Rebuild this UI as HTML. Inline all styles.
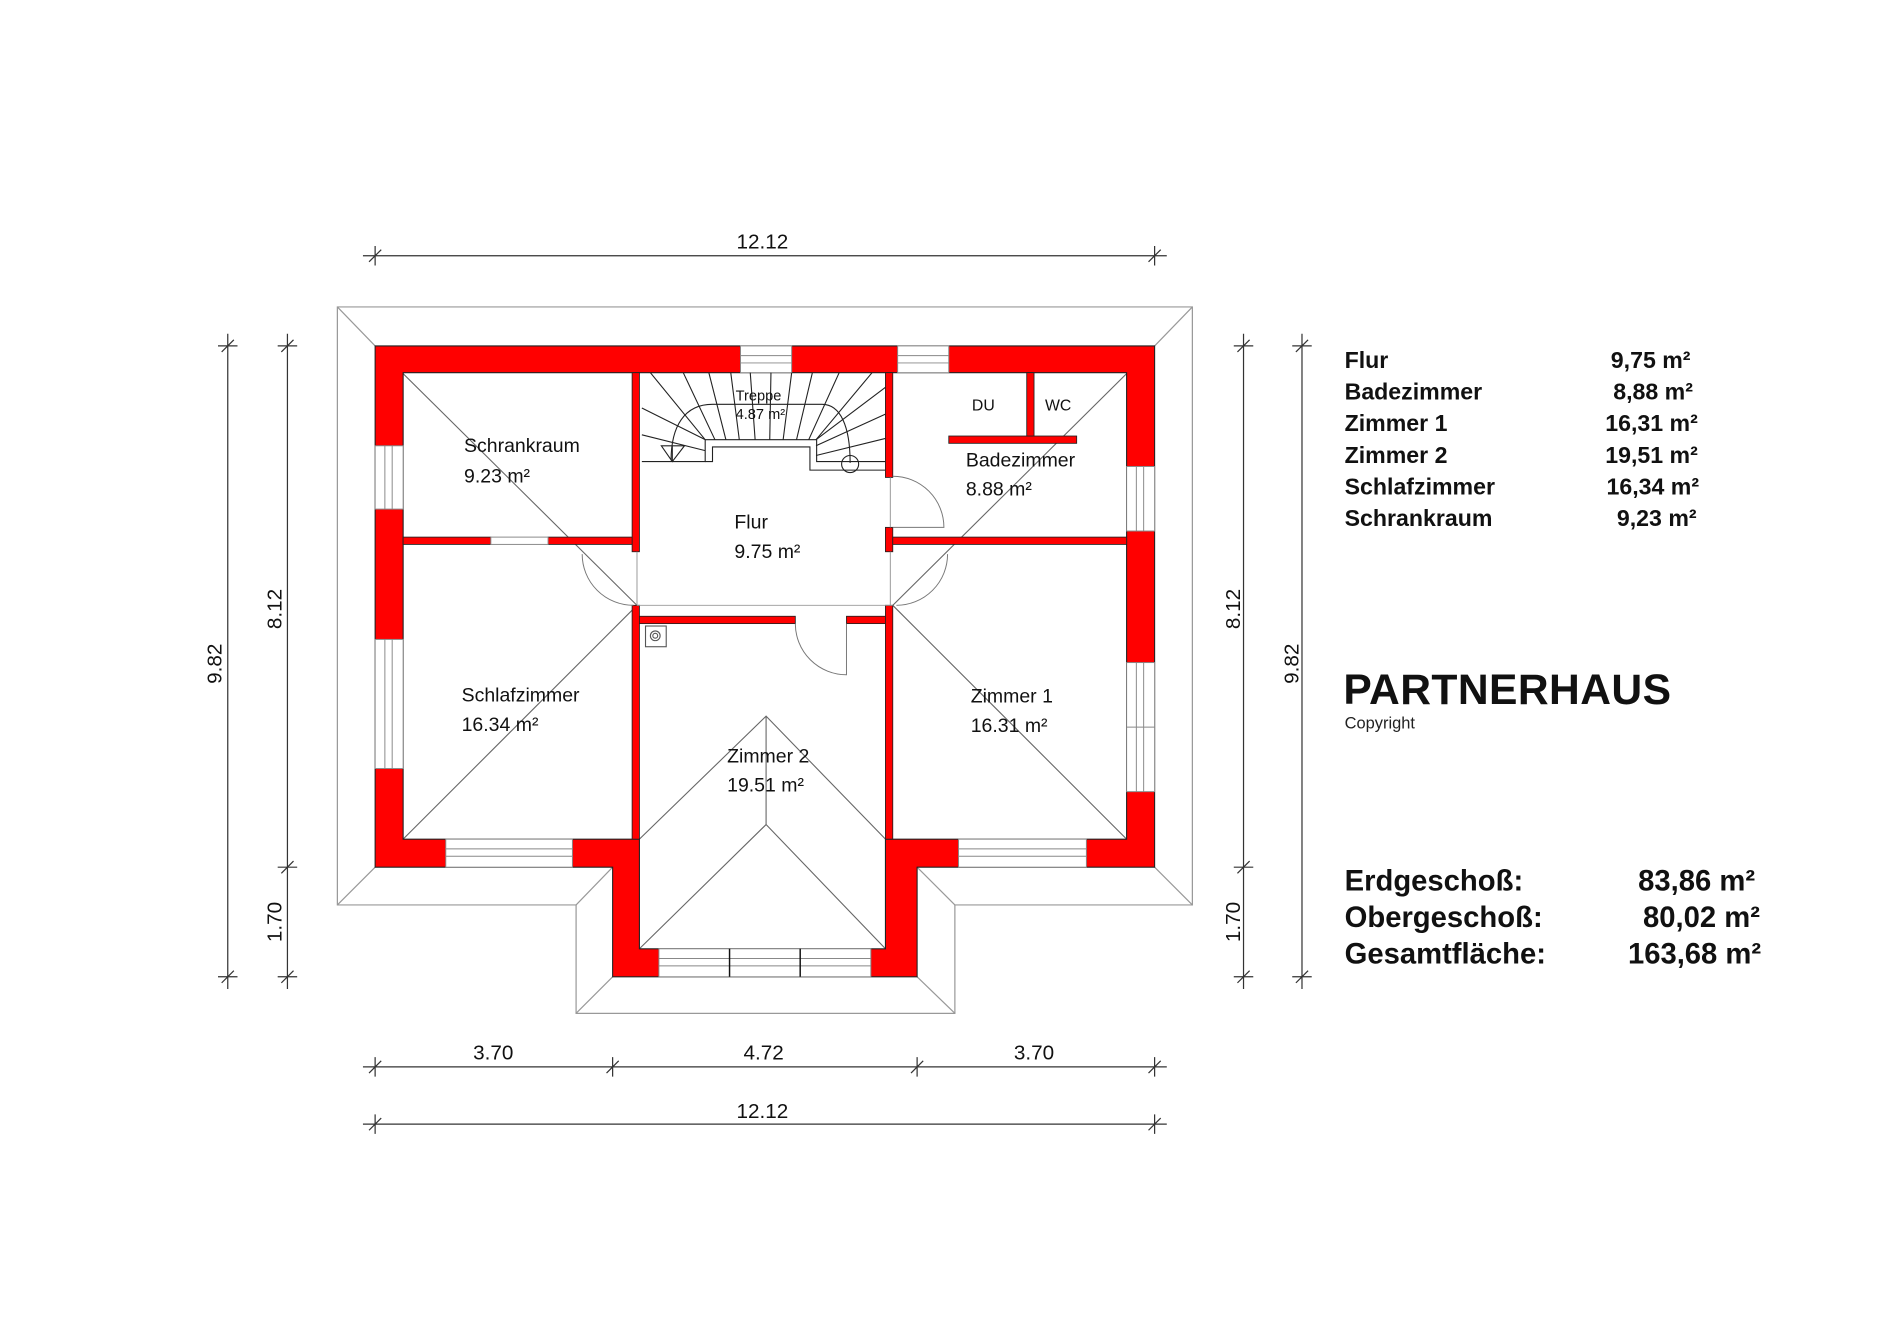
<!DOCTYPE html>
<html><head><meta charset="utf-8"><style>
html,body{margin:0;padding:0;background:#fff}
svg{display:block}
text{font-family:"Liberation Sans",sans-serif}
</style></head><body>
<svg width="1900" height="1344" viewBox="0 0 1560 1103.5" preserveAspectRatio="none" xmlns="http://www.w3.org/2000/svg">
<rect x="0" y="0" width="1560" height="1104" fill="#fff"/>
<!-- roof outline -->
<g fill="none" stroke="#999" stroke-width="1">
<path d="M277,252 H979 V743 H784 V832 H473 V743 H277 Z"/>
<path d="M277,252 L308,284 M979,252 L948,284 M277,743 L308,712 M979,743 L948,712 M473,832 L503,802 M784,832 L753,802 M473,743 L503,712 M784,743 L753,712"/>
</g>
<g fill="none" stroke="#666" stroke-width="0.9">
<path d="M308,284 L523,497 L331,689 M948,284 L733,497 L925,689"/>
<path d="M525,689 L629,588 L727,689 M525,779 L629,677 L727,779 M629,588 V677 M503,802 L525,779 M753,802 L727,779 M503,712 L525,689 M753,712 L727,689"/>
</g>
<!-- outer walls -->
<path fill-rule="evenodd" fill="#ff0000" stroke="#222" stroke-width="0.9" d="M308,284 H948 V712 H753 V802 H503 V712 H308 Z M331,306 V689 H525 V779 H727 V689 H925 V306 Z"/>
<!-- interior walls -->
<g fill="#ff0000" stroke="#222" stroke-width="0.7">
<rect x="519" y="306" width="6" height="147"/>
<rect x="519" y="497" width="6" height="192"/>
<rect x="331" y="441" width="72" height="6"/>
<rect x="450" y="441" width="69" height="6"/>
<rect x="525" y="506" width="128" height="6"/>
<rect x="695" y="506" width="32" height="6"/>
<rect x="727" y="306" width="6" height="86"/>
<rect x="727" y="433" width="6" height="20"/>
<rect x="727" y="497" width="6" height="192"/>
<rect x="733" y="441" width="192" height="6"/>
<rect x="779" y="358" width="105" height="6"/>
<rect x="843" y="306" width="6" height="52"/>
</g>
<!-- windows -->
<g fill="#fff" stroke="#888" stroke-width="0.8">
<rect x="608" y="284" width="42" height="22"/><path d="M608,292 H650 M608,298 H650"/>
<rect x="737" y="284" width="42" height="22"/><path d="M737,292 H779 M737,298 H779"/>
<rect x="308" y="366" width="23" height="52"/><path d="M316,366 V418 M322,366 V418"/>
<rect x="308" y="525" width="23" height="106"/><path d="M316,525 V631 M322,525 V631"/>
<rect x="925" y="383" width="23" height="53"/><path d="M933,383 V436 M939,383 V436"/>
<rect x="925" y="544" width="23" height="106"/><path d="M933,544 V650 M939,544 V650 M925,597 H948"/>
<rect x="366" y="689" width="104" height="23"/><path d="M366,697 H470 M366,703 H470"/>
<rect x="787" y="689" width="105" height="23"/><path d="M787,697 H892 M787,703 H892"/>
<rect x="403" y="441" width="47" height="6"/>
<rect x="541" y="779" width="174" height="23"/><path d="M541,787 H715 M541,793 H715"/>
</g>
<path d="M599,779 V802 M657,779 V802" stroke="#111" stroke-width="1.2"/>
<!-- openings lines -->
<g fill="none" stroke="#999" stroke-width="0.8">
<path d="M523,453 V497 M523,497 H733 M731,453 V497 M731,392 V433"/>
</g>
<!-- doors -->
<g fill="none" stroke="#777" stroke-width="0.8">
<path d="M478,455 A42,42 0 0 0 520,497"/>
<path d="M778,455 A42,42 0 0 1 736,497"/>
<path d="M733,391 A42,42 0 0 1 775,433 H733"/>
<path d="M653,512 A42,42 0 0 0 695,554 V512"/>
</g>
<!-- stairs -->
<g fill="none" stroke="#222" stroke-width="0.9">
<path d="M527,379 H579 V361 H670.5 V379 H727"/>
<path d="M579,379 H585 V367 H665 V386 H727"/>
<path d="M534,306 L579,361 M561,306 L587,361 M582,306 L596,361 M600,306 L607,361 M616,306 L620,361 M633,306 L632,361 M650,306 L643,361 M667,306 L654,361 M689,306 L664,361 M716,306 L670,361"/>
<path d="M527,335 L579,361 M527,357 L579,370 M727,318 L670,361 M727,340 L670,366 M727,360 L670,374"/>
<path d="M551,378 C551,350 562,332 585,332 H675 C690,332 698,350 698,380"/>
<path d="M543,366 H562 L552,379 Z M552,366 V379"/>
<circle cx="698" cy="381" r="7"/>
<rect x="530" y="514" width="17" height="17" stroke="#555"/>
<circle cx="538" cy="522" r="4" stroke="#555"/><circle cx="538" cy="522" r="2" stroke="#555"/>
</g>
<!-- room labels -->
<g font-size="16" fill="#111">
<text x="381" y="371">Schrankraum</text><text x="381" y="396">9.23 m²</text>
<text x="603" y="434">Flur</text><text x="603" y="458">9.75 m²</text>
<text x="793" y="383">Badezimmer</text><text x="793" y="407">8.88 m²</text>
<text x="379" y="576">Schlafzimmer</text><text x="379" y="600">16.34 m²</text>
<text x="797" y="577">Zimmer 1</text><text x="797" y="601">16.31 m²</text>
<text x="597" y="626">Zimmer 2</text><text x="597" y="650">19.51 m²</text>
<text x="798" y="337" font-size="13">DU</text><text x="858" y="337" font-size="13">WC</text>
<text x="604" y="329" font-size="12">Treppe</text><text x="604" y="344" font-size="12">4.87 m²</text>
</g>
<!-- dimension lines -->
<g stroke="#333" stroke-width="1" fill="none">
<path d="M298,210 H958 M308,202 V218 M948,202 V218 M303,215 L313,205 M943,215 L953,205"/>
<path d="M298,876 H958 M308,868 V884 M503,868 V884 M753,868 V884 M948,868 V884 M303,881 L313,871 M498,881 L508,871 M748,881 L758,871 M943,881 L953,871"/>
<path d="M298,923 H958 M308,915 V931 M948,915 V931 M303,928 L313,918 M943,928 L953,918"/>
<path d="M187,274 V812 M179,284 H195 M179,802 H195 M182,289 L192,279 M182,807 L192,797"/>
<path d="M236,274 V812 M228,284 H244 M228,712 H244 M228,802 H244 M231,289 L241,279 M231,717 L241,707 M231,807 L241,797"/>
<path d="M1021,274 V812 M1013,284 H1029 M1013,712 H1029 M1013,802 H1029 M1016,289 L1026,279 M1016,717 L1026,707 M1016,807 L1026,797"/>
<path d="M1069,274 V812 M1061,284 H1077 M1061,802 H1077 M1064,289 L1074,279 M1064,807 L1074,797"/>
</g>
<g font-size="17" fill="#111" text-anchor="middle">
<text x="626" y="204">12.12</text>
<text x="405" y="870">3.70</text><text x="627" y="870">4.72</text><text x="849" y="870">3.70</text>
<text x="626" y="918">12.12</text>
<text transform="translate(182,545) rotate(-90)">9.82</text>
<text transform="translate(231,500) rotate(-90)">8.12</text>
<text transform="translate(231,757) rotate(-90)">1.70</text>
<text transform="translate(1018,500) rotate(-90)">8.12</text>
<text transform="translate(1018,757) rotate(-90)">1.70</text>
<text transform="translate(1066,545) rotate(-90)">9.82</text>
</g>
<!-- legend -->
<g font-size="19" font-weight="bold" fill="#111">
<text x="1104" y="302">Flur</text><text x="1388" y="302" text-anchor="end">9,75 m²</text>
<text x="1104" y="328">Badezimmer</text><text x="1390" y="328" text-anchor="end">8,88 m²</text>
<text x="1104" y="354">Zimmer 1</text><text x="1394" y="354" text-anchor="end">16,31 m²</text>
<text x="1104" y="380">Zimmer 2</text><text x="1394" y="380" text-anchor="end">19,51 m²</text>
<text x="1104" y="406">Schlafzimmer</text><text x="1395" y="406" text-anchor="end">16,34 m²</text>
<text x="1104" y="432">Schrankraum</text><text x="1393" y="432" text-anchor="end">9,23 m²</text>
</g>
<text x="1103" y="578" font-size="35" font-weight="bold" fill="#111" textLength="269">PARTNERHAUS</text>
<text x="1104" y="598" font-size="13.5" fill="#222">Copyright</text>
<g font-size="24" font-weight="bold" fill="#111">
<text x="1104" y="731">Erdgeschoß:</text><text x="1441" y="731" text-anchor="end">83,86 m²</text>
<text x="1104" y="761">Obergeschoß:</text><text x="1445" y="761" text-anchor="end">80,02 m²</text>
<text x="1104" y="791">Gesamtfläche:</text><text x="1446" y="791" text-anchor="end">163,68 m²</text>
</g>
</svg>
</body></html>
